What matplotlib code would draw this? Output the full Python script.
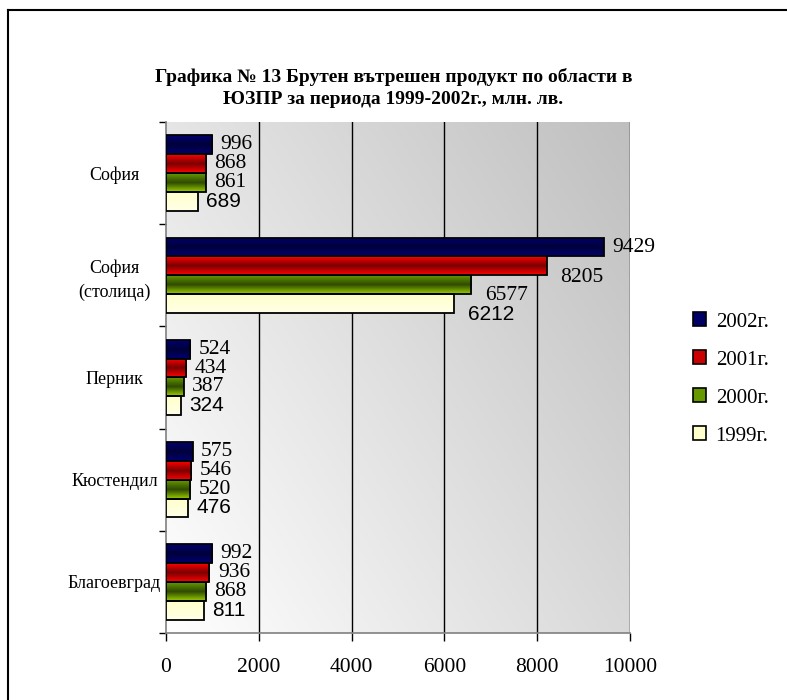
import numpy as np
import matplotlib
matplotlib.use("Agg")
import matplotlib.pyplot as plt
from matplotlib.patches import Rectangle, Patch
from matplotlib.lines import Line2D
from matplotlib.colors import LinearSegmentedColormap
from matplotlib.transforms import offset_copy

categories = ["София", "София\n(столица)", "Перник", "Кюстендил", "Благоевград"]
series_names = ["2002г.", "2001г.", "2000г.", "1999г."]
v2002 = [996, 9429, 524, 575, 992]
v2001 = [868, 8205, 434, 546, 936]
v2000 = [861, 6577, 387, 520, 868]
v1999 = [689, 6212, 324, 476, 811]
x_ticks = [0, 2000, 4000, 6000, 8000, 10000]
title = "Графика № 13 Брутен вътрешен продукт по области в\nЮЗПР за периода 1999-2002г., млн. лв."

series = [v2002, v2001, v2000, v1999]
# gradient stops (top, middle, bottom) per series
grads = [
    ["#000070", "#00003a", "#000070"],
    ["#ff0000", "#7a0000", "#ff0000"],
    ["#669900", "#2e4a00", "#99cc00"],
    ["#ffffcc", "#ffffd8", "#ffffe8"],
]
legend_colors = ["#000066", "#cc0000", "#669900", "#ffffcc"]

SERIF = ["Liberation Serif", "DejaVu Serif"]
SANS = ["Liberation Sans", "DejaVu Sans"]

fig = plt.figure(figsize=(7.87, 7.00), dpi=100)
ax = fig.add_axes([166/787, 1-633/700, (630-166)/787, (633-122)/700])

# plot area background gradient
nx, ny = 200, 200
gx, gy = np.meshgrid(np.linspace(0, 1, nx), np.linspace(0, 1, ny))
g = 1 - 0.25*(0.6*gx + 0.4*(1-gy))
ax.imshow(np.dstack([g, g, g]), extent=(0, 1, 0, 1), transform=ax.transAxes,
          aspect="auto", zorder=0, interpolation="bilinear")

h = 0.184
offs = [-1.5*h, -0.5*h, 0.5*h, 1.5*h]
for si, vals in enumerate(series):
    cmap = LinearSegmentedColormap.from_list("c%d" % si, grads[si])
    grad = cmap(np.linspace(0, 1, 64))[:, None, :3]
    for ci, v in enumerate(vals):
        yc = ci + offs[si]
        y0, y1 = yc - h/2, yc + h/2
        rect = Rectangle((0, y0), v, h, facecolor="none", edgecolor="black",
                         lw=1.3, zorder=4)
        ax.add_patch(rect)
        im = ax.imshow(grad, extent=(0, v, y1, y0), origin="upper",
                       aspect="auto", zorder=3, interpolation="bilinear")
        im.set_clip_path(rect)
        # data label
        fam = SANS if si == 3 else SERIF
        dy = 0.0
        dxp = 6
        if v > 5000 and si > 0:
            dy = 0.6*h
            dxp = 10
        tr = offset_copy(ax.transData, fig=fig, x=dxp, y=0, units="points")
        ax.text(v, yc + dy, str(v), ha="left", va="center", transform=tr,
                fontsize=15.5 if si < 3 else 15, family=fam, color="black",
                zorder=5)

ax.set_xlim(0, 10000)
ax.set_ylim(4.5, -0.5)
ax.set_xticks(x_ticks)
ax.set_xticklabels([str(t) for t in x_ticks])
for lab in ax.get_xticklabels():
    lab.set_fontfamily(SERIF)
    lab.set_fontsize(15.5)
ax.set_yticks(range(len(categories)))
ax.set_yticklabels(categories, ha="center", linespacing=1.45)
for lab in ax.get_yticklabels():
    lab.set_fontfamily(SERIF)
    lab.set_fontsize(13)
ax.tick_params(axis="y", which="major", length=0, pad=37)
ax.set_yticks(np.arange(-0.5, 5.0, 1.0), minor=True)
ax.tick_params(axis="y", which="minor", length=5, direction="out", width=1)
ax.tick_params(axis="x", length=6, direction="out", width=1, pad=12)
for t in x_ticks[1:]:
    ax.axvline(t, color="black", lw=1, zorder=1)
for s in ["top", "right"]:
    ax.spines[s].set_visible(False)
ax.spines["left"].set_color("#808080")
ax.spines["bottom"].set_color("#808080")
ax.spines["left"].set_linewidth(1.2)
ax.spines["bottom"].set_linewidth(1.2)

# legend
handles = [Patch(facecolor=c, edgecolor="black", lw=1.2) for c in legend_colors]
leg = fig.legend(handles, series_names, loc="center left",
                 bbox_to_anchor=(674/787, 1-379/700), frameon=False,
                 prop={"family": SERIF, "size": 15}, handlelength=0.65,
                 handleheight=0.65, handletextpad=0.45, labelspacing=0.9)

fig.text(0.5, 1-88/700, title, ha="center", va="center", family=SERIF,
         fontsize=14, fontweight="bold", linespacing=1.45)

# outer frame (left and top)
fig.add_artist(Line2D([8/787, 8/787], [0, 1-10/700], transform=fig.transFigure,
                      color="black", lw=1.5))
fig.add_artist(Line2D([8/787, 1], [1-10/700, 1-10/700], transform=fig.transFigure,
                      color="black", lw=1.5))

fig.savefig("out.png", dpi=100)
